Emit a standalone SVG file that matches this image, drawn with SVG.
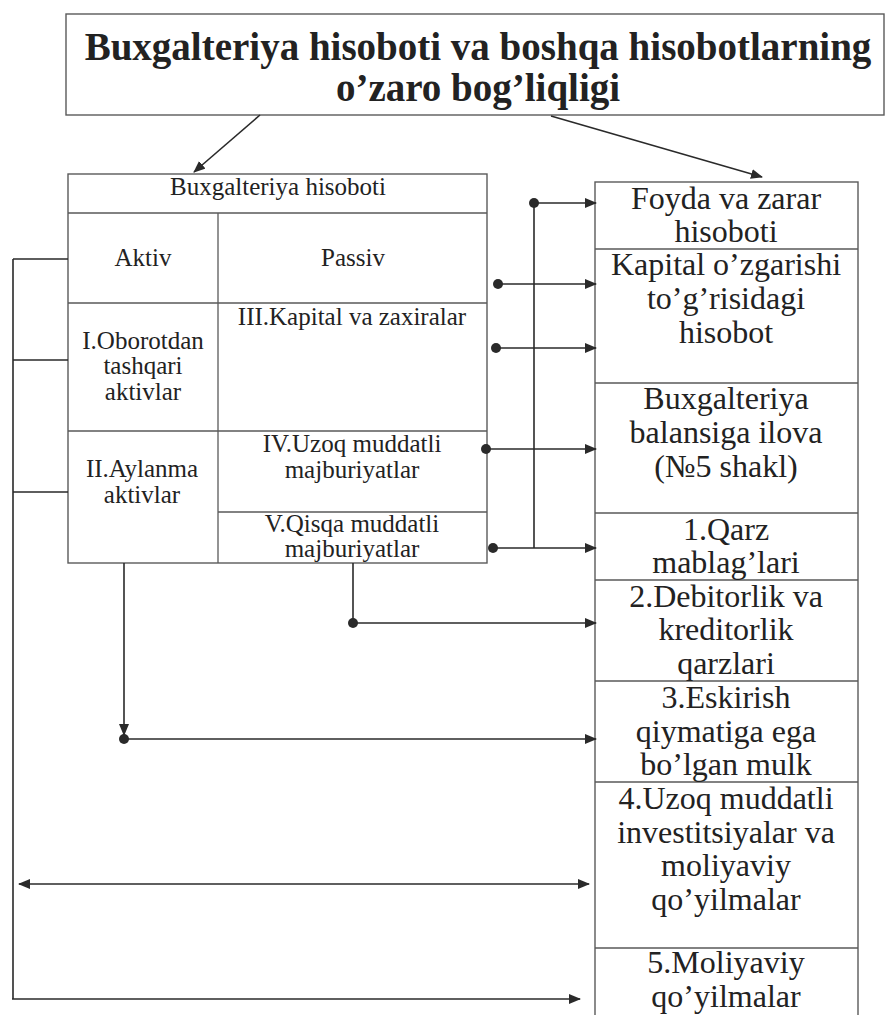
<svg xmlns="http://www.w3.org/2000/svg" width="886" height="1015" viewBox="0 0 886 1015">
<defs>
<marker id="ah" markerWidth="12" markerHeight="10" refX="11" refY="5" orient="auto" markerUnits="userSpaceOnUse">
<path d="M0,0 L12,5 L0,10 Z" fill="#2a2a2a"/>
</marker>
<marker id="ahs" markerWidth="12" markerHeight="10" refX="1" refY="5" orient="auto" markerUnits="userSpaceOnUse">
<path d="M12,0 L0,5 L12,10 Z" fill="#2a2a2a"/>
</marker>
</defs>
<style>
.box{fill:#fff;stroke:#5a5a5a;stroke-width:1.4}
.div{fill:none;stroke:#5a5a5a;stroke-width:1.3}
.con{fill:none;stroke:#2a2a2a;stroke-width:1.6}
.dot{fill:#2a2a2a}
.t{font-family:"Liberation Serif","Times New Roman",serif;fill:#222;text-anchor:middle}
.ttl{font-size:39px;font-weight:bold}
.l{font-size:25px}
.r{font-size:32px}
</style>
<rect width="886" height="1015" fill="#fff"/>

<g id="title">
<rect class="box" x="66" y="14" width="818" height="101"/>
<text class="t ttl" x="478" y="60">Buxgalteriya hisoboti va boshqa hisobotlarning</text>
<text class="t ttl" x="478" y="101">o’zaro bog’liqligi</text>
</g>

<g id="balance">
<rect class="box" x="68" y="174" width="419" height="389"/>
<path class="div" d="M68,213 H487 M218,213 V563 M68,303 H487 M68,431 H487 M218,512 H487"/>
<text class="t l" x="278" y="195">Buxgalteriya hisoboti</text>
<text class="t l" x="143" y="266">Aktiv</text>
<text class="t l" x="353" y="266">Passiv</text>
<text class="t l" x="352" y="325">III.Kapital va zaxiralar</text>
<text class="t l" x="143" y="349">I.Oborotdan</text>
<text class="t l" x="143" y="374">tashqari</text>
<text class="t l" x="143" y="400">aktivlar</text>
<text class="t l" x="142" y="477">II.Aylanma</text>
<text class="t l" x="142" y="503">aktivlar</text>
<text class="t l" x="352" y="452">IV.Uzoq muddatli</text>
<text class="t l" x="352" y="478">majburiyatlar</text>
<text class="t l" x="352" y="532">V.Qisqa muddatli</text>
<text class="t l" x="352" y="557">majburiyatlar</text>
</g>

<g id="reports">
<rect class="box" x="595" y="182" width="263" height="836"/>
<path class="div" d="M595,249 H858 M595,383 H858 M595,513 H858 M595,580 H858 M595,681 H858 M595,782 H858 M595,948 H858"/>
</g>
<g id="r-foyda">
<text class="t r" x="726" y="209">Foyda va zarar</text>
<text class="t r" x="726" y="242">hisoboti</text>
</g>
<g id="r-kapital">
<text class="t r" x="726" y="275">Kapital o’zgarishi</text>
<text class="t r" x="726" y="309">to’g’risidagi</text>
<text class="t r" x="726" y="343">hisobot</text>
</g>
<g id="r-ilova">
<text class="t r" x="726" y="409">Buxgalteriya</text>
<text class="t r" x="726" y="443">balansiga ilova</text>
<text class="t r" x="726" y="477">(№5 shakl)</text>
</g>
<g id="r-qarz">
<text class="t r" x="726" y="540">1.Qarz</text>
<text class="t r" x="726" y="573">mablag’lari</text>
</g>
<g id="r-debitor">
<text class="t r" x="726" y="607">2.Debitorlik va</text>
<text class="t r" x="726" y="640">kreditorlik</text>
<text class="t r" x="726" y="674">qarzlari</text>
</g>
<g id="r-eskirish">
<text class="t r" x="726" y="708">3.Eskirish</text>
<text class="t r" x="726" y="742">qiymatiga ega</text>
<text class="t r" x="726" y="775">bo’lgan mulk</text>
</g>
<g id="r-invest">
<text class="t r" x="726" y="809">4.Uzoq muddatli</text>
<text class="t r" x="726" y="843">investitsiyalar va</text>
<text class="t r" x="726" y="876">moliyaviy</text>
<text class="t r" x="726" y="910">qo’yilmalar</text>
</g>
<g id="r-moliya">
<text class="t r" x="726" y="973">5.Moliyaviy</text>
<text class="t r" x="726" y="1007">qo’yilmalar</text>
</g>

<g id="connectors">
<line class="con" x1="260" y1="115" x2="194" y2="172" marker-end="url(#ah)"/>
<line class="con" x1="551" y1="116" x2="762" y2="177" marker-end="url(#ah)"/>
<path class="con" d="M534,203 V548"/>
<line class="con" x1="534" y1="203" x2="596" y2="203" marker-end="url(#ah)"/>
<line class="con" x1="498" y1="284" x2="596" y2="284" marker-end="url(#ah)"/>
<line class="con" x1="496" y1="348" x2="596" y2="348" marker-end="url(#ah)"/>
<line class="con" x1="486" y1="449" x2="596" y2="449" marker-end="url(#ah)"/>
<line class="con" x1="493" y1="548" x2="596" y2="548" marker-end="url(#ah)"/>
<circle class="dot" cx="534" cy="203" r="5"/>
<circle class="dot" cx="498" cy="284" r="5"/>
<circle class="dot" cx="496" cy="348" r="5"/>
<circle class="dot" cx="486" cy="449" r="5"/>
<circle class="dot" cx="493" cy="548" r="5"/>
<path class="con" d="M353,563 V623"/>
<line class="con" x1="353" y1="623" x2="596" y2="623" marker-end="url(#ah)"/>
<circle class="dot" cx="353" cy="623" r="5"/>
<line class="con" x1="124" y1="563" x2="124" y2="735" marker-end="url(#ah)"/>
<line class="con" x1="124" y1="739" x2="596" y2="739" marker-end="url(#ah)"/>
<circle class="dot" cx="124" cy="739" r="5"/>
<line class="con" x1="19" y1="884" x2="589" y2="884" marker-start="url(#ahs)" marker-end="url(#ah)"/>
<path class="con" d="M68,259 H13 M68,360 H13 M68,492 H13 M13,259 V999"/>
<line class="con" x1="12" y1="999" x2="580" y2="999" marker-end="url(#ah)"/>
</g>
</svg>
